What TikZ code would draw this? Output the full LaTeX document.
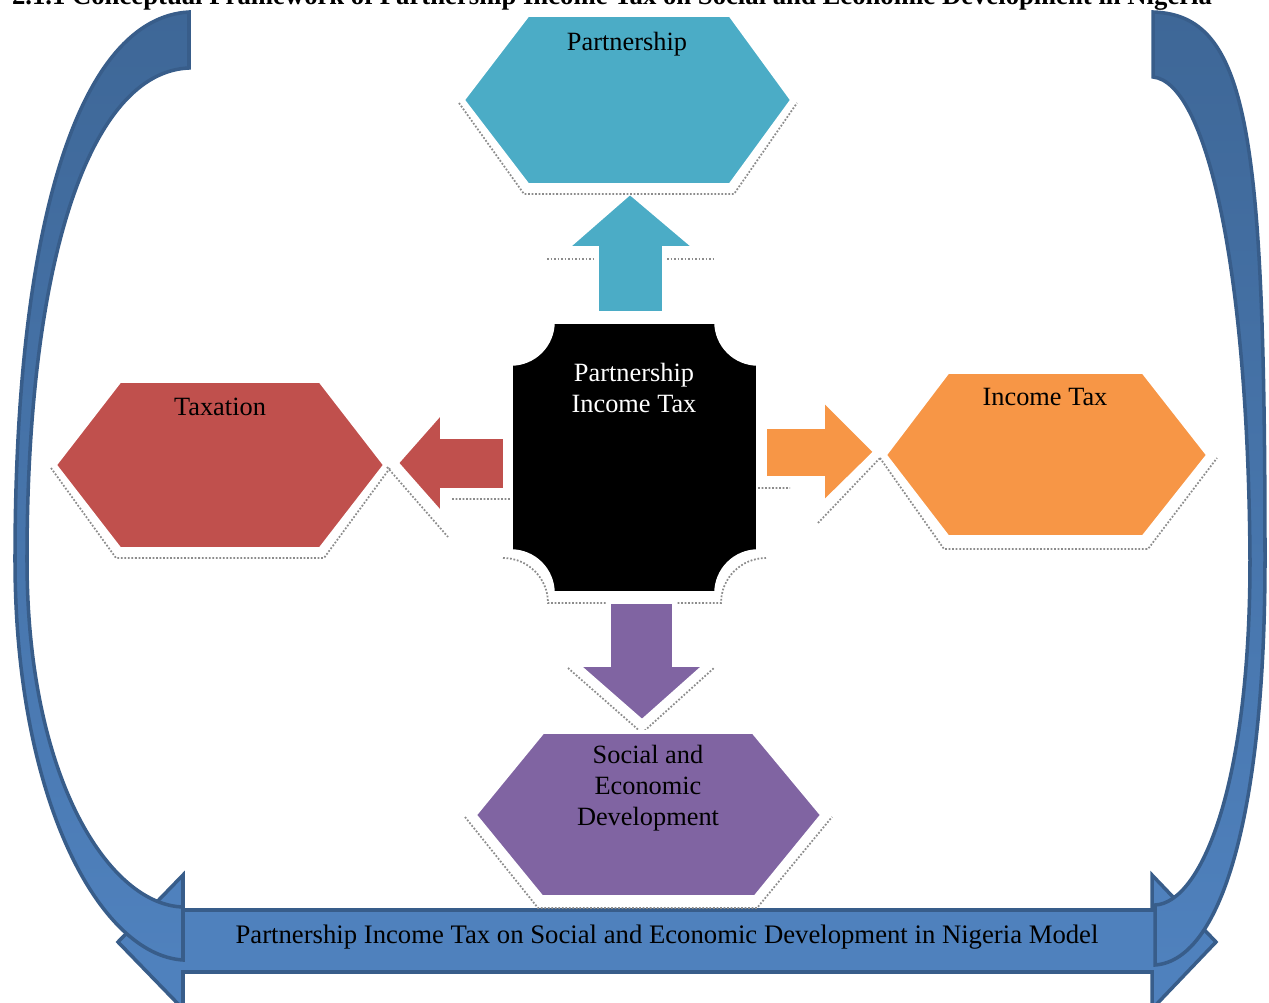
\documentclass[tikz,border=0pt]{standalone}
\usepackage{fontspec}
\setmainfont{Liberation Serif}
\usetikzlibrary{calc}

\definecolor{ptnteal}{HTML}{4BACC6}
\definecolor{taxred}{HTML}{C0504D}
\definecolor{incorange}{HTML}{F79646}
\definecolor{devpurple}{HTML}{8064A2}
\definecolor{frameblue}{HTML}{4F81BD}
\definecolor{frameshade}{HTML}{3E6797}
\definecolor{framedark}{HTML}{385D8A}

% concave-cornered box: left, top, right, bottom, corner radius
\newcommand{\plaquepath}[5]{({#1+#5},#2) -- ({#3-#5},#2)
  arc[start angle=180,end angle=90,radius=#5] -- (#3,{#4-#5})
  arc[start angle=270,end angle=180,radius=#5] -- ({#1+#5},#4)
  arc[start angle=0,end angle=-90,radius=#5] -- (#1,{#2+#5})
  arc[start angle=90,end angle=0,radius=#5] -- cycle}

\newcommand{\leftbandpath}{(189,12) .. controls (80,18) and (15,220) .. (15,560)
  .. controls (15,800) and (100,955) .. (183,960) -- (183,907)
  .. controls (110,905) and (27,780) .. (27,560)
  .. controls (27,260) and (90,72) .. (189,68) -- cycle}
\newcommand{\rightbandpath}{(1153,12) .. controls (1248,15) and (1265,130) .. (1265,560)
  .. controls (1265,800) and (1225,960) .. (1155,965) -- (1155,905)
  .. controls (1200,903) and (1250,790) .. (1250,560)
  .. controls (1248,260) and (1205,82) .. (1153,77) -- cycle}

\begin{document}
\begin{tikzpicture}[x=0.02cm,y=-0.02cm,
                    font=\fontsize{15}{17.6}\selectfont]

  \tikzstyle{castshadow}=[draw=black!45,line width=1pt,densely dotted,line join=miter]
  \tikzstyle{facebox}=[draw=white,line width=2pt,line join=miter]
  \tikzstyle{band}=[draw=framedark,line width=2pt,line join=miter]
  \tikzstyle{boxtext}=[inner sep=0pt,align=center]

  \useasboundingbox (0,0) rectangle (1269,1003);
  \clip (0,0) rectangle (1269,1003);

  % title, cut at the top edge
  \node[font=\bfseries\fontsize{15.2}{18}\selectfont,anchor=base] (title) at (612,5)
    {2.1.1 Conceptual Framework of Partnership Income Tax on Social and Economic Development in Nigeria};

  % model arrow at the bottom
  \path[band,fill=frameblue] (118,942) -- (183,875) -- (183,910) -- (1152,910) -- (1152,875)
    -- (1216,942) -- (1152,1009) -- (1152,972) -- (183,972) -- (183,1009) -- cycle;
  \node[boxtext,font=\fontsize{15.2}{17.6}\selectfont] (model) at (667,937)
    {Partnership Income Tax on Social and Economic Development in Nigeria Model};

  % curved side bands
  \path[band,top color=frameshade,middle color=frameshade,bottom color=frameblue] \leftbandpath;
  \path[band,top color=frameshade,middle color=frameshade,bottom color=frameblue] \rightbandpath;

  % centre box
  \path[castshadow] (503,558) arc[start angle=-90,end angle=0,radius=45] -- (721,603)
    arc[start angle=180,end angle=270,radius=45];
  \path[facebox,fill=black] \plaquepath{511}{322}{758}{593}{42};
  \node[boxtext,text=white] (pit) at (634,388) {Partnership\\Income Tax};

  % block arrows
  \path[castshadow] (547,259) -- (595,259) (667,259) -- (716,259);
  \path[facebox,fill=ptnteal] (597,313) -- (597,248) -- (567,248) -- (630,193) -- (695,248) -- (664,248) -- (664,313) -- cycle;

  \path[castshadow] (387,467) -- (448,537) (452,499) -- (510,499);
  \path[facebox,fill=taxred] (505,437) -- (442,437) -- (442,412) -- (397,463) -- (442,514) -- (442,490) -- (505,490) -- cycle;

  \path[castshadow] (758,488) -- (790,488) (818,523) -- (880,458);
  \path[facebox,fill=incorange] (765,427) -- (823,427) -- (823,400) -- (875,452) -- (823,503) -- (823,478) -- (765,478) -- cycle;

  \path[castshadow] (568,668) -- (642,733) -- (714,668);
  \path[facebox,fill=devpurple] (609,602) -- (674,602) -- (674,665) -- (705,665) -- (642,721) -- (578,665) -- (609,665) -- cycle;

  % hexagons
  \path[castshadow] (459,103) -- (524,194) -- (734,194) -- (797,103);
  \path[facebox,fill=ptnteal] (463,100) -- (528,15) -- (730,15) -- (792,100) -- (730,185) -- (528,185) -- cycle;
  \node[boxtext] (ptn) at (627,44) {Partnership};

  \path[castshadow] (51,468) -- (116,558) -- (324,558) -- (390,468);
  \path[facebox,fill=taxred] (55,465) -- (120,381) -- (320,381) -- (385,465) -- (320,549) -- (120,549) -- cycle;
  \node[boxtext] (tax) at (220,407) {Taxation};

  \path[castshadow] (880,458) -- (944,549) -- (1148,549) -- (1217,458);
  \path[facebox,fill=incorange] (885,455) -- (948,372) -- (1143,372) -- (1208,455) -- (1143,537) -- (948,537) -- cycle;
  \node[boxtext] (inc) at (1045,397) {Income Tax};

  \path[castshadow] (465,817) -- (538,908) -- (757,908) -- (832,817);
  \path[facebox,fill=devpurple] (475,815) -- (543,732) -- (753,732) -- (822,815) -- (755,897) -- (542,897) -- cycle;
  \node[boxtext] (dev) at (648,788) {Social and\\Economic\\Development};

\end{tikzpicture}
\end{document}
